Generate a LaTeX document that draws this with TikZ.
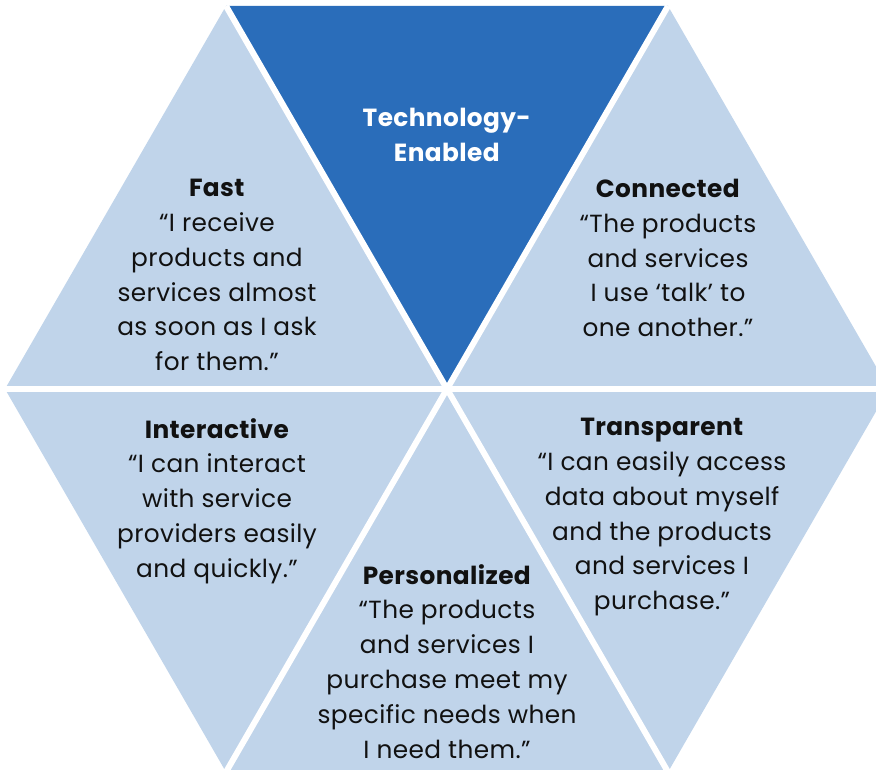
\documentclass[tikz,border=0pt]{standalone}
\usepackage{fontspec}
\setmainfont{Poppins}
\definecolor{hexdark}{HTML}{2A6DBA}
\definecolor{hexlight}{HTML}{C0D4EA}
\definecolor{txt}{HTML}{111111}
\begin{document}
\begin{tikzpicture}[x=1pt,y=-1pt,
  seg/.style={fill=hexlight,draw=none},
  segdark/.style={fill=hexdark,draw=none},
  gap/.style={draw=white,line width=6pt},
  label/.style={anchor=north,align=center,inner sep=0pt,text=txt,
    font=\fontsize{24.8}{34.8}\selectfont\addfontfeature{LetterSpace=1.6}},
  darklabel/.style={label,text=white}]
\useasboundingbox (0,0) rectangle (876,770);
% hexagon corners and centre
\coordinate (c) at (447,389);
\coordinate (v0) at (889,389);
\coordinate (v1) at (668,6);
\coordinate (v2) at (226,6);
\coordinate (v3) at (5,389);
\coordinate (v4) at (226,772);
\coordinate (v5) at (668,772);
% six triangular segments
\fill[segdark] (c) -- (v1) -- (v2) -- cycle;
\fill[seg] (c) -- (v0) -- (v1) -- cycle;
\fill[seg] (c) -- (v2) -- (v3) -- cycle;
\fill[seg] (c) -- (v3) -- (v4) -- cycle;
\fill[seg] (c) -- (v4) -- (v5) -- cycle;
\fill[seg] (c) -- (v5) -- (v0) -- cycle;
% white separators
\foreach \v in {v0,v1,v2,v3,v4,v5} \draw[gap] (c) -- (\v);
% segment texts
\node[darklabel] (tech) at (447,108) {\textbf{Technology-}\\\textbf{Enabled}};
\node[label] (fast) at (217,179) {\textbf{Fast}\\“I receive\\products and\\services almost\\as soon as I ask\\for them.”};
\node[label] (conn) at (668,179) {\textbf{Connected}\\“The products\\and services\\I use ‘talk’ to\\one another.”};
\node[label] (inter) at (217,418) {\textbf{Interactive}\\“I can interact\\with service\\providers easily\\and quickly.”};
\node[label] (trans) at (662,418) {\textbf{Transparent}\\“I can easily access\\data about myself\\and the products\\and services I\\purchase.”};
\node[label] (pers) at (447,564) {\textbf{Personalized}\\“The products\\and services I\\purchase meet my\\specific needs when\\I need them.”};
\end{tikzpicture}
\end{document}
